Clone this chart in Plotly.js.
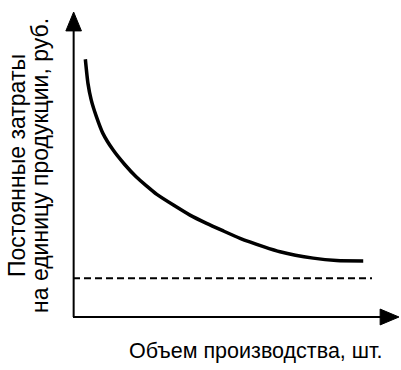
<!DOCTYPE html>
<html>
<head>
<meta charset="utf-8">
<script src="https://cdn.plot.ly/plotly-3.0.1.min.js"></script>
<style>html,body{margin:0;padding:0;background:#fff;}#chart{width:401px;height:370px;}</style>
</head>
<body>
<div id="chart"></div>
<script>
// Curve: fixed cost per unit vs production volume
const volume = [3.8, 4.6, 5.6, 7.2, 9.2, 12.3, 15.9, 19.5, 22.6, 25.8, 30.9, 36.0, 41.1, 46.3, 51.4, 58.6, 63.7, 73.9, 81.1, 89.3];
const costPerUnit = [84.5, 76.6, 71.2, 65.7, 60.2, 54.8, 50.0, 45.9, 43.0, 40.2, 36.7, 33.4, 30.7, 28.2, 25.8, 23.1, 21.4, 19.3, 18.5, 18.4];
// Dashed asymptote level
const dashX = [0, 92];
const dashY = [12.7, 12.7];
const yTitleLines = ["Постоянные затраты", "на единицу продукции, руб."];
const xTitle = "Объем производства, шт.";

const fontY = {family: "Liberation Sans, Arial, sans-serif", size: 23, color: "#000"};
const fontX = {family: "Liberation Sans, Arial, sans-serif", size: 21.5, color: "#000"};

const traces = [
  {x: volume, y: costPerUnit, mode: "lines", line: {color: "#000", width: 3.5, shape: "spline", smoothing: 0.6}, hoverinfo: "skip"},
  {x: dashX, y: dashY, mode: "lines", line: {color: "#000", width: 2, dash: "7px,4px"}, hoverinfo: "skip"}
];

const layout = {
  width: 401, height: 370,
  margin: {l: 73, r: 3, t: 12, b: 53},
  paper_bgcolor: "#fff", plot_bgcolor: "#fff",
  showlegend: false,
  xaxis: {range: [0, 100], visible: false, fixedrange: true},
  yaxis: {range: [0, 100], visible: false, fixedrange: true},
  shapes: [
    {type: "line", xref: "paper", yref: "paper", x0: 0.002, y0: 0, x1: 0.002, y1: 0.95, line: {color: "#000", width: 2}},
    {type: "line", xref: "paper", yref: "paper", x0: 0, y0: 0, x1: 0.955, y1: 0, line: {color: "#000", width: 2}},
    {type: "path", xref: "paper", yref: "paper", path: "M 0.002 1.0 L -0.022 0.938 L 0.026 0.938 Z", fillcolor: "#000", line: {color: "#000", width: 1}},
    {type: "path", xref: "paper", yref: "paper", path: "M 1.003 0 L 0.945 0.026 L 0.945 -0.026 Z", fillcolor: "#000", line: {color: "#000", width: 1}}
  ],
  annotations: [
    {text: yTitleLines[0], xref: "paper", yref: "paper", x: (17-73)/325, y: (317-166)/305, xanchor: "center", yanchor: "middle", textangle: -90, showarrow: false, font: fontY},
    {text: yTitleLines[1], xref: "paper", yref: "paper", x: (40-73)/325, y: (317-166)/305, xanchor: "center", yanchor: "middle", textangle: -90, showarrow: false, font: fontY},
    {text: xTitle, xref: "paper", yref: "paper", x: (255-73)/325, y: -34/305, xanchor: "center", yanchor: "middle", showarrow: false, font: fontX}
  ]
};

Plotly.newPlot("chart", traces, layout, {displayModeBar: false, staticPlot: true});
</script>
</body>
</html>
